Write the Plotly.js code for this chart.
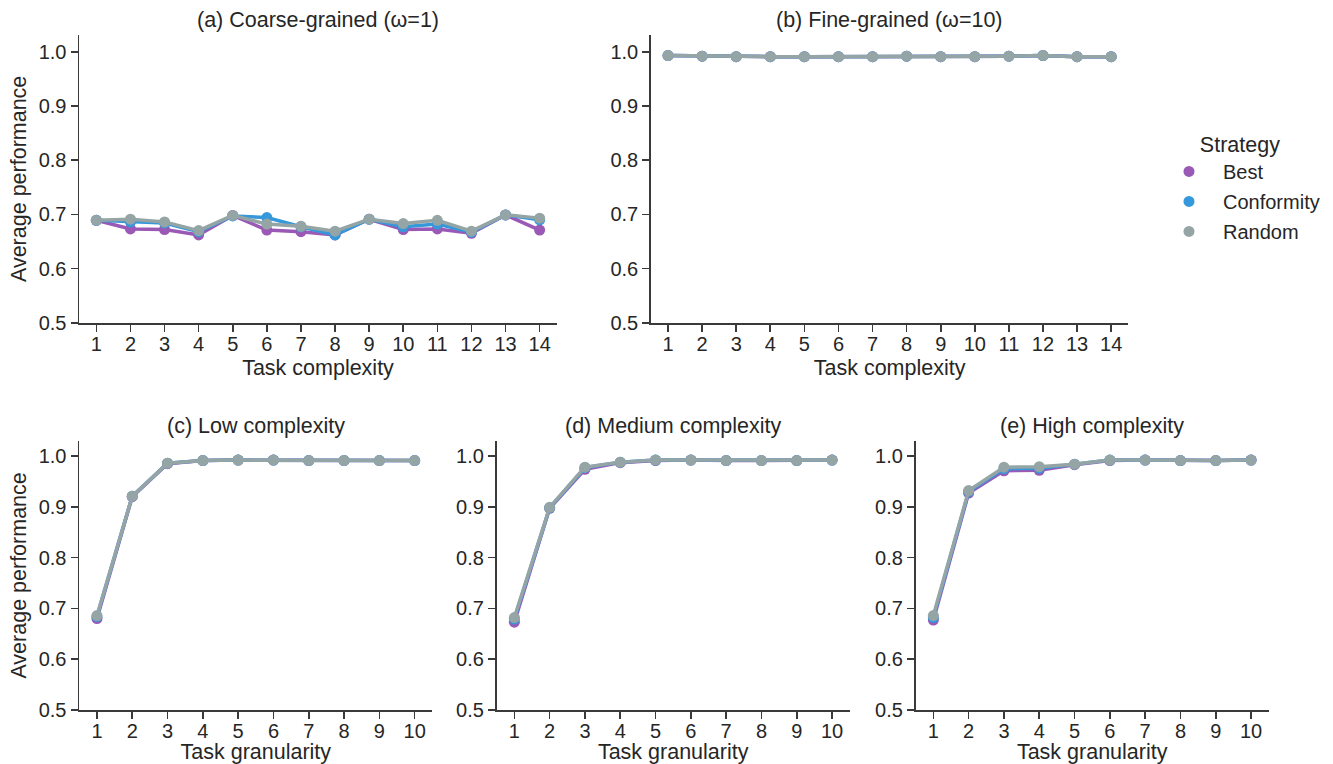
<!DOCTYPE html>
<html>
<head>
<meta charset="utf-8">
<script src="https://cdn.plot.ly/plotly-3.0.1.min.js"></script>
<style>html,body{margin:0;padding:0;background:#fff;}#chart{width:1333px;height:764px;}</style>
</head>
<body>
<div id="chart"></div>
<script>
// ---------------- DATA ----------------
const strategies = ["Best", "Conformity", "Random"];
const complexity = [1,2,3,4,5,6,7,8,9,10,11,12,13,14];
const granularity = [1,2,3,4,5,6,7,8,9,10];

// (a) Coarse-grained (omega=1)
const coarseBest       = [0.689,0.673,0.672,0.662,0.698,0.671,0.668,0.662,0.691,0.672,0.673,0.665,0.699,0.671];
const coarseConformity = [0.689,0.686,0.684,0.668,0.697,0.694,0.677,0.662,0.691,0.677,0.682,0.667,0.699,0.690];
const coarseRandom     = [0.689,0.691,0.686,0.670,0.698,0.682,0.678,0.669,0.691,0.683,0.689,0.669,0.699,0.693];

// (b) Fine-grained (omega=10)
const fineBest       = [0.993,0.992,0.991,0.991,0.991,0.991,0.991,0.992,0.991,0.991,0.992,0.993,0.991,0.991];
const fineConformity = [0.993,0.992,0.991,0.991,0.991,0.991,0.991,0.992,0.991,0.991,0.992,0.993,0.991,0.991];
const fineRandom     = [0.993,0.992,0.991,0.991,0.991,0.991,0.991,0.992,0.991,0.991,0.992,0.993,0.991,0.991];

// (c) Low complexity
const lowBest       = [0.680,0.920,0.985,0.991,0.992,0.992,0.991,0.991,0.991,0.991];
const lowConformity = [0.684,0.921,0.986,0.991,0.992,0.992,0.991,0.991,0.991,0.991];
const lowRandom     = [0.686,0.921,0.986,0.991,0.992,0.992,0.991,0.991,0.991,0.991];

// (d) Medium complexity
const medBest       = [0.673,0.897,0.974,0.987,0.991,0.992,0.991,0.991,0.991,0.992];
const medConformity = [0.679,0.898,0.977,0.988,0.992,0.992,0.991,0.991,0.991,0.992];
const medRandom     = [0.682,0.899,0.978,0.988,0.992,0.992,0.991,0.991,0.991,0.992];

// (e) High complexity
const highBest       = [0.677,0.927,0.971,0.972,0.983,0.991,0.992,0.991,0.991,0.992];
const highConformity = [0.682,0.930,0.975,0.976,0.984,0.992,0.992,0.991,0.991,0.992];
const highRandom     = [0.686,0.932,0.978,0.979,0.984,0.992,0.992,0.991,0.991,0.992];

const panelTitles = ["(a) Coarse-grained (ω=1)", "(b) Fine-grained (ω=10)", "(c) Low complexity", "(d) Medium complexity", "(e) High complexity"];
const xTitles = ["Task complexity", "Task complexity", "Task granularity", "Task granularity", "Task granularity"];
const yTitle = "Average performance";
const yTickVals = [0.5,0.6,0.7,0.8,0.9,1.0];

// ---------------- STYLE ----------------
const colors = {"Best":"#9b59b6", "Conformity":"#3498db", "Random":"#95a5a6"};
const FONT = "Liberation Sans, Arial, Helvetica, sans-serif";
const TXT = "#262626";
const AX = "#3a3a3a";

const panels = [
  {x: complexity, series: [coarseBest, coarseConformity, coarseRandom]},
  {x: complexity, series: [fineBest, fineConformity, fineRandom]},
  {x: granularity, series: [lowBest, lowConformity, lowRandom]},
  {x: granularity, series: [medBest, medConformity, medRandom]},
  {x: granularity, series: [highBest, highConformity, highRandom]}
];

const W = 1333, H = 764;
const MB = 50;            // bottom margin (room for bottom axis titles)
const PH = H - MB;        // plot-area height
// pixel boxes [left, right, top, bottom]
const boxes = [
  [79.3, 556.7, 35, 322.7],
  [651, 1128.2, 35, 322.7],
  [79.3, 432.3, 440.8, 710],
  [496.7, 849.7, 440.8, 710],
  [915.7, 1268.7, 440.8, 710]
];
const xRanges = [[0.5,14.5],[0.5,14.5],[0.5,10.5],[0.5,10.5],[0.5,10.5]];
const yRanges = [[0.5,1.031],[0.5,1.031],[0.5,1.03],[0.5,1.03],[0.5,1.03]];

const traces = [];
const layout = {
  width: W, height: H,
  margin: {l:0, r:0, t:0, b:MB},
  paper_bgcolor: "#fff", plot_bgcolor: "#fff",
  font: {family: FONT, color: TXT, size: 20},
  showlegend: true,
  legend: {
    x: 1155/W, y: 1 - 124/PH, xanchor: "left", yanchor: "top",
    font: {family: FONT, size: 20, color: TXT},
    title: {text: "Strategy", side: "top center", font: {family: FONT, size: 21.5, color: TXT}},
    tracegroupgap: 1,
    itemwidth: 58,
    bgcolor: "rgba(0,0,0,0)"
  },
  annotations: []
};

panels.forEach((p, i) => {
  const n = i + 1;
  const xa = n === 1 ? "x" : "x" + n;
  const ya = n === 1 ? "y" : "y" + n;
  p.series.forEach((vals, s) => {
    traces.push({
      type: "scatter", mode: "lines+markers",
      x: p.x, y: vals, xaxis: xa, yaxis: ya,
      name: strategies[s], showlegend: false,
      line: {color: colors[strategies[s]], width: 3.5},
      marker: {color: colors[strategies[s]], size: 11, line: {width: 0}},
      hoverinfo: "x+y+name"
    });
  });
  const b = boxes[i];
  const axCommon = {
    showline: true, linecolor: AX, linewidth: 1.8,
    ticks: "outside", ticklen: 7, tickwidth: 1.6, tickcolor: AX,
    showgrid: false, zeroline: false,
    tickfont: {family: FONT, size: 20, color: TXT}
  };
  layout["xaxis" + (n === 1 ? "" : n)] = Object.assign({}, axCommon, {
    domain: [b[0]/W, b[1]/W], anchor: ya, range: xRanges[i],
    tickmode: "array", tickvals: p.x, ticktext: p.x.map(String),
    ticklabelstandoff: -5,
    title: {text: xTitles[i], font: {family: FONT, size: 21.5, color: TXT}, standoff: 6}
  });
  layout["yaxis" + (n === 1 ? "" : n)] = Object.assign({}, axCommon, {
    domain: [1 - b[3]/PH, 1 - b[2]/PH], anchor: xa, range: yRanges[i],
    tickmode: "array", tickvals: yTickVals, ticktext: yTickVals.map(v => v.toFixed(1)),
    title: (n === 1 || n === 3) ? {text: yTitle, font: {family: FONT, size: 21.5, color: TXT}, standoff: 6} : {text: ""}
  });
  layout.annotations.push({
    text: panelTitles[i], showarrow: false,
    xref: xa + " domain", x: 0.5, xanchor: "center",
    yref: "paper", y: 1 - (b[2] - 15)/PH, yanchor: "middle",
    font: {family: FONT, size: 21.5, color: TXT}
  });
});

// legend-only marker entries
strategies.forEach((s) => {
  traces.push({
    type: "scatter", mode: "markers", x: [null], y: [null],
    name: s, legendgroup: s, showlegend: true,
    marker: {color: colors[s], size: 11}, hoverinfo: "skip"
  });
});

Plotly.newPlot("chart", traces, layout, {displayModeBar: false, staticPlot: true});
</script>
</body>
</html>
